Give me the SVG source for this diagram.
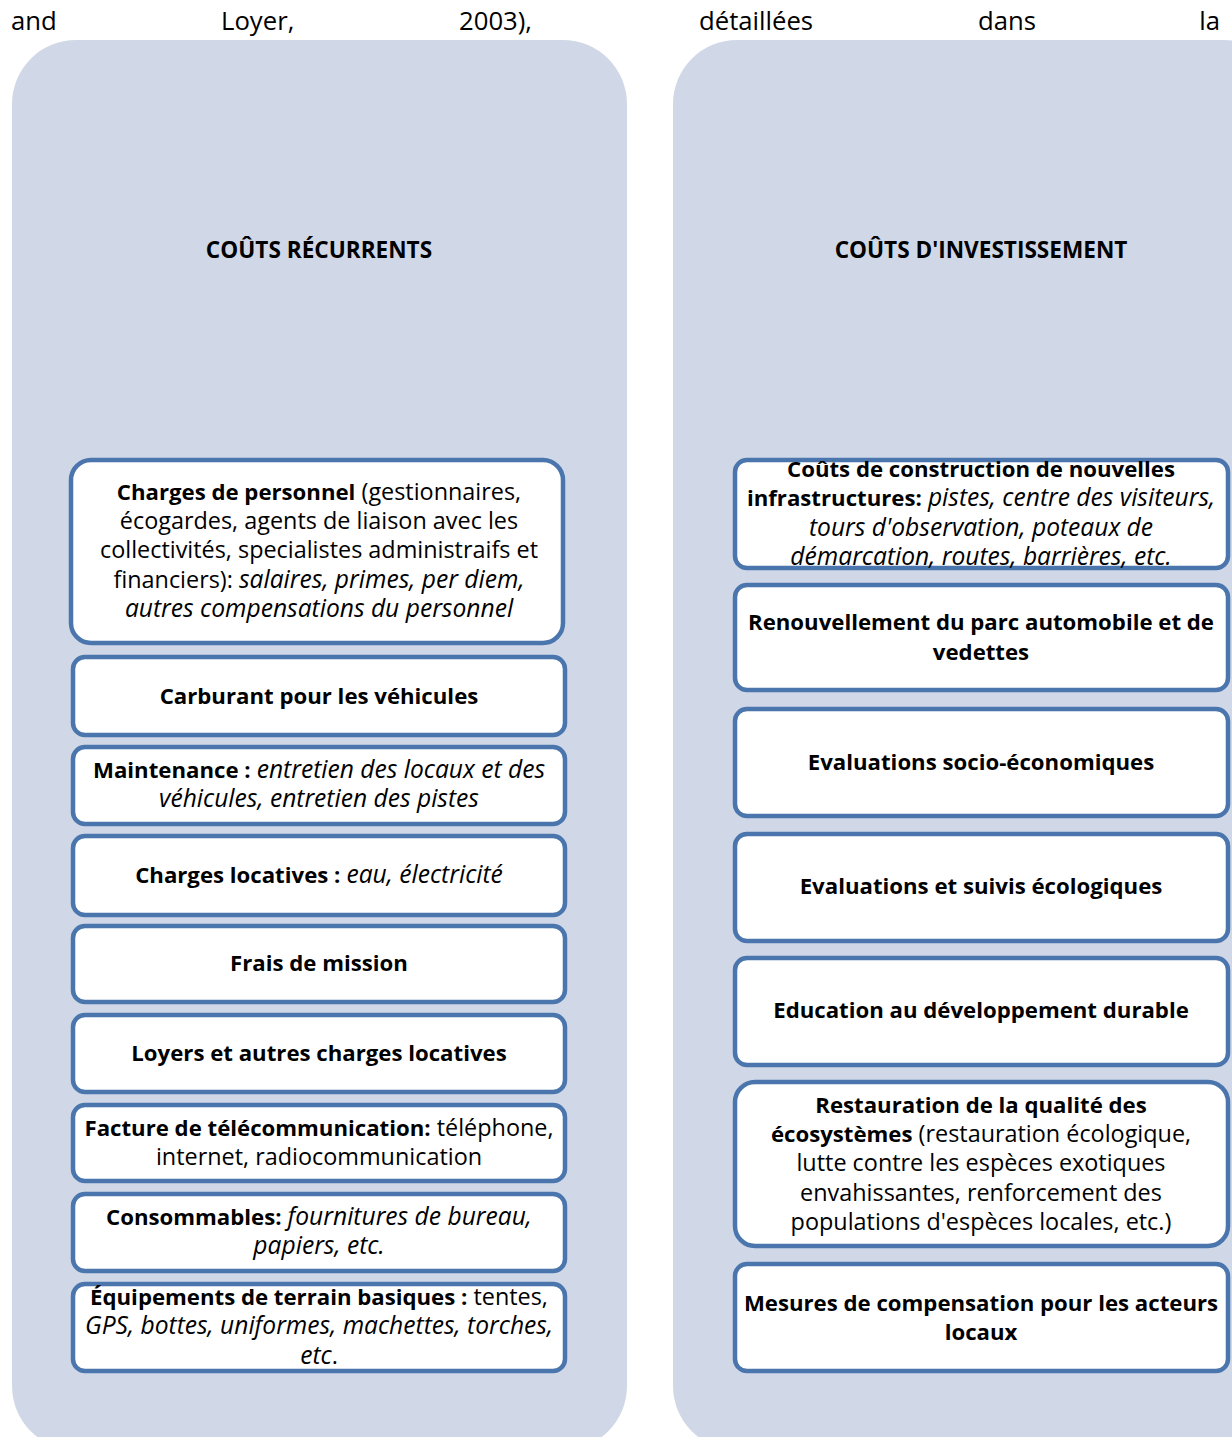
<svg xmlns="http://www.w3.org/2000/svg" width="1232" height="1437" viewBox="0 0 1232 1437">
  <style>
    text { font-family: "Open Sans", "Liberation Sans", sans-serif; font-size: 23.4px; fill: #000; }
    .c { text-anchor: middle; }
    .b { font-weight: bold; font-size: 22.2px; }
    .i { font-style: italic; font-size: 24.6px; }
    .h { font-weight: bold; font-size: 22.6px; }
    .top { font-size: 25.7px; }
    .panel { fill: #D0D8E8; }
    .box { fill: #FFFFFF; stroke: #4A76AD; stroke-width: 4.5; }
  </style>

  <!-- running paragraph line above the figure -->
  <g id="body-line">
    <text class="top" x="11" y="30">and</text>
    <text class="top" x="221" y="30">Loyer,</text>
    <text class="top" x="459" y="30">2003),</text>
    <text class="top" x="699" y="30">détaillées</text>
    <text class="top" x="978" y="30">dans</text>
    <text class="top" x="1220" y="30" text-anchor="end">la</text>
  </g>

  <!-- background columns -->
  <g id="panel-recurrents">
    <rect class="panel" x="12" y="40" width="615" height="1410" rx="64" ry="64"/>
    <text class="c h" x="319" y="258">COÛTS RÉCURRENTS</text>
  </g>
  <g id="panel-investissement">
    <rect class="panel" x="673" y="40" width="615" height="1410" rx="64" ry="64"/>
    <text class="c h" x="981" y="258">COÛTS D'INVESTISSEMENT</text>
  </g>

  <!-- recurring cost items -->
  <g id="r-personnel">
    <rect class="box" x="71" y="460" width="492" height="183" rx="20"/>
    <text class="c" x="319" y="500"><tspan class="b">Charges de personnel</tspan> (gestionnaires,</text>
    <text class="c" x="319" y="529">écogardes, agents de liaison avec les</text>
    <text class="c" x="319" y="558">collectivités, specialistes administraifs et</text>
    <text class="c" x="319" y="588">financiers): <tspan class="i">salaires, primes, per diem,</tspan></text>
    <text class="c i" x="319" y="617">autres compensations du personnel</text>
  </g>
  <g id="r-carburant">
    <rect class="box" x="73" y="657" width="492" height="78" rx="12"/>
    <text class="c b" x="319" y="704">Carburant pour les véhicules</text>
  </g>
  <g id="r-maintenance">
    <rect class="box" x="73" y="747" width="492" height="77" rx="12"/>
    <text class="c" x="319" y="778"><tspan class="b">Maintenance :</tspan> <tspan class="i">entretien des locaux et des</tspan></text>
    <text class="c i" x="319" y="807">véhicules, entretien des pistes</text>
  </g>
  <g id="r-locatives">
    <rect class="box" x="73" y="836" width="492" height="79" rx="12"/>
    <text class="c" x="319" y="883"><tspan class="b">Charges locatives :</tspan> <tspan class="i">eau, électricité</tspan></text>
  </g>
  <g id="r-mission">
    <rect class="box" x="73" y="926" width="492" height="76" rx="12"/>
    <text class="c b" x="319" y="971">Frais de mission</text>
  </g>
  <g id="r-loyers">
    <rect class="box" x="73" y="1015" width="492" height="77" rx="12"/>
    <text class="c b" x="319" y="1061">Loyers et autres charges locatives</text>
  </g>
  <g id="r-telecom">
    <rect class="box" x="73" y="1105" width="492" height="76" rx="12"/>
    <text class="c" x="319" y="1136"><tspan class="b">Facture de télécommunication:</tspan> téléphone,</text>
    <text class="c" x="319" y="1165">internet, radiocommunication</text>
  </g>
  <g id="r-consommables">
    <rect class="box" x="73" y="1194" width="492" height="77" rx="12"/>
    <text class="c" x="319" y="1225"><tspan class="b">Consommables:</tspan> <tspan class="i">fournitures de bureau,</tspan></text>
    <text class="c i" x="319" y="1254">papiers, etc.</text>
  </g>
  <g id="r-equipements">
    <rect class="box" x="73" y="1284" width="492" height="87" rx="12"/>
    <text class="c" x="319" y="1305"><tspan class="b">Équipements de terrain basiques :</tspan> tentes,</text>
    <text class="c i" x="319" y="1334">GPS, bottes, uniformes, machettes, torches,</text>
    <text class="c" x="319" y="1364"><tspan class="i">etc</tspan>.</text>
  </g>

  <!-- investment cost items -->
  <g id="i-construction">
    <rect class="box" x="735" y="460" width="493" height="108" rx="12"/>
    <text class="c b" x="981" y="477">Coûts de construction de nouvelles</text>
    <text class="c" x="981" y="506"><tspan class="b">infrastructures:</tspan> <tspan class="i">pistes, centre des visiteurs,</tspan></text>
    <text class="c i" x="981" y="536">tours d'observation, poteaux de</text>
    <text class="c i" x="981" y="565">démarcation, routes, barrières, etc.</text>
  </g>
  <g id="i-parc">
    <rect class="box" x="735" y="585" width="493" height="105" rx="12"/>
    <text class="c b" x="981" y="630">Renouvellement du parc automobile et de</text>
    <text class="c b" x="981" y="660">vedettes</text>
  </g>
  <g id="i-socio">
    <rect class="box" x="735" y="709" width="493" height="107" rx="12"/>
    <text class="c b" x="981" y="770">Evaluations socio-économiques</text>
  </g>
  <g id="i-ecolo">
    <rect class="box" x="735" y="834" width="493" height="107" rx="12"/>
    <text class="c b" x="981" y="894">Evaluations et suivis écologiques</text>
  </g>
  <g id="i-education">
    <rect class="box" x="735" y="958" width="493" height="107" rx="12"/>
    <text class="c b" x="981" y="1018">Education au développement durable</text>
  </g>
  <g id="i-restauration">
    <rect class="box" x="735" y="1082" width="493" height="164" rx="20"/>
    <text class="c b" x="981" y="1113">Restauration de la qualité des</text>
    <text class="c" x="981" y="1142"><tspan class="b">écosystèmes</tspan> (restauration écologique,</text>
    <text class="c" x="981" y="1171">lutte contre les espèces exotiques</text>
    <text class="c" x="981" y="1201">envahissantes, renforcement des</text>
    <text class="c" x="981" y="1230">populations d'espèces locales, etc.)</text>
  </g>
  <g id="i-compensation">
    <rect class="box" x="735" y="1264" width="493" height="107" rx="12"/>
    <text class="c b" x="981" y="1311">Mesures de compensation pour les acteurs</text>
    <text class="c b" x="981" y="1340">locaux</text>
  </g>

  <!-- no connectors in this figure -->
  <g id="connectors"/>
</svg>
